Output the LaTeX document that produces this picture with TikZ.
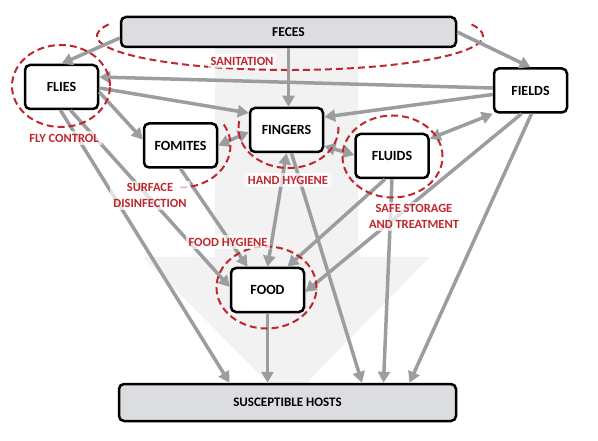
\documentclass[tikz,border=0pt]{standalone}
\usepackage{fontspec}
\setmainfont{Carlito}
\usetikzlibrary{arrows.meta,calc,backgrounds}
\definecolor{arrowgray}{HTML}{9C9DA1}
\definecolor{ctrlred}{HTML}{C0262D}
\definecolor{boxgray}{HTML}{DCDDE0}
\definecolor{shadegray}{HTML}{F2F2F2}
\tikzset{
every picture/.style={
line width=1pt
}}

\begin{document}
\begin{tikzpicture}[x=1pt, y=1pt,
block/.style = {rectangle, rounded corners=5pt, draw=black, line width=2.5pt, fill=white,
  minimum width=73pt, minimum height=44pt, font=\bfseries\fontsize{14}{16}\selectfont},
widebox/.style = {block, fill=boxgray, minimum width=335pt},
flow/.style = {draw=arrowgray, line width=3.5pt, -{Triangle[length=11pt,width=12pt]}},
twoway/.style = {flow, {Triangle[length=11pt,width=12pt]}-{Triangle[length=11pt,width=12pt]}},
ring/.style = {draw=ctrlred, line width=2pt, dash pattern=on 7pt off 4pt},
ctrl/.style = {text=ctrlred, font=\bfseries\fontsize{12.5}{15.5}\selectfont, align=center,
  fill=white, fill opacity=0.7, text opacity=1, inner sep=3pt}]
\useasboundingbox (0,0) rectangle (598,440);

\node[widebox, minimum height=30pt, font=\bfseries\fontsize{13.5}{16}\selectfont] at (288.5,408) (feces) {FECES};
\node[block] at (61.5,353) (flies) {FLIES};
\node[block] at (530.5,349.5) (fields) {FIELDS};
\node[block] at (286.5,310) (fingers) {FINGERS};
\node[block] at (180.5,294.5) (fomites) {FOMITES};
\node[block] at (392,284) (fluids) {FLUIDS};
\node[block] at (267.5,150) (food) {FOOD};
\node[widebox, minimum width=337pt, minimum height=37pt, font=\bfseries\fontsize{13}{15}\selectfont] at (287.5,37.5) (hosts) {SUSCEPTIBLE HOSTS};

% big shaded arrow behind everything
\begin{scope}[on background layer]
\fill[shadegray] (215,392) -- (358,392) -- (358,183) -- (430,183) -- (287.5,38)
  -- (143,183) -- (215,183) -- cycle;
\draw[ring] ($(290,404)+(160:193 and 34)$) arc [start angle=160, end angle=380, x radius=193, y radius=34];
\end{scope}

\draw[flow] ($(feces.west)+(0,-6)$) -- (flies.north);
\draw[flow] (feces.south) -- (feces.south |- fingers.north);
\draw[flow] (feces.east) -- (fields.north);
\draw[flow] ($(fields.west)+(0,2.5)$) -- ($(flies.east)+(0,10)$);
\draw[flow] ($(flies.east)+(0,-1)$) -- ($(fingers.west)+(0,17)$);
\draw[flow] ($(flies.east)+(0,-5)$) -- ($(fomites.west)+(0,6)$);
\draw[flow] ($(fields.west)+(0,-4)$) -- ($(fingers.east)+(0,13)$);
\draw[twoway] (fomites.east) -- ($(fingers.west)+(0,-2)$);
\draw[twoway] ($(fingers.east)+(0,-16)$) -- ($(fluids.west)+(0,1)$);
\draw[twoway] ($(fluids.north east)+(0,-6)$) -- (fields.south west);
\draw[twoway] (fingers.south) -- (food.north);
\draw[flow] ($(fingers.south)+(5,0)$) -- ($(hosts.north)+(74.5,0)$);
\draw[flow] (fluids.south) -- ($(hosts.north)+(96,0)$);
\draw[flow] ($(fields.south)+(1,0)$) -- ($(hosts.north)+(122,0)$);
\draw[flow] ($(fields.south)+(-9,0)$) -- ($(food.east)+(0,-2)$);
\draw[flow] ($(fluids.south)+(-7,0)$) -- ($(food.north)+(20,0)$);
\draw[flow] ($(flies.south)+(-1,0)$) -- ($(hosts.north)+(-58,0)$);
\draw[flow] ($(flies.south)+(9,0)$) -- ($(food.west)+(0,3)$);
\draw[flow] (fomites.south) -- ($(food.north)+(-20,0)$);
\draw[flow] (food.south) -- (food.south |- hosts.north);

% control measures
\draw[ring] (61,354) ellipse [x radius=49, y radius=41];
\draw[ring] ($(fomites.center)+(30:50 and 42)$) arc [start angle=30, end angle=-92, x radius=50, y radius=42];
\draw[ring] ($(fingers.center)+(2,2)+(170:50 and 40)$) arc [start angle=170, end angle=365, x radius=50, y radius=40];
\draw[ring] (392.5,283.5) ellipse [x radius=50, y radius=41];
\draw[ring] (266.5,152.5) ellipse [x radius=50, y radius=41];

\node[ctrl] at (242,379) (sanit) {SANITATION};
\node[ctrl] at (64,302) (flyctl) {FLY CONTROL};
\node[ctrl] at (150,244.5) (surf) {SURFACE\\DISINFECTION};
\node[ctrl] at (288,260) (hand) {HAND HYGIENE};
\node[ctrl] at (414,223.5) (store) {SAFE STORAGE\\AND TREATMENT};
\node[ctrl] at (228,198) (foodhyg) {FOOD HYGIENE};
\end{tikzpicture}
\end{document}
